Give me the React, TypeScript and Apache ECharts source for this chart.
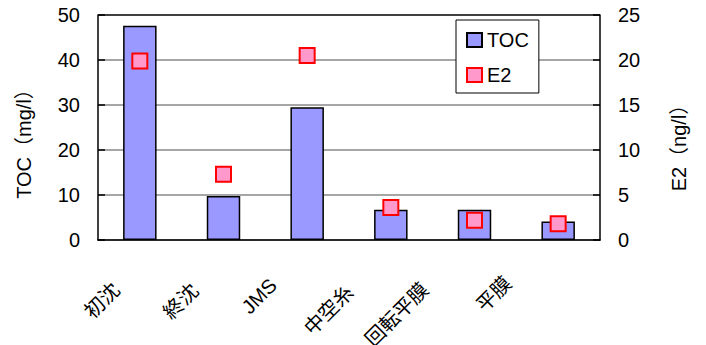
import React, { useEffect, useRef } from "react";
import * as echarts from "echarts";

const categories = ["初沈", "終沈", "JMS", "中空糸", "回転平膜", "平膜"];
const tocValues = [47.6, 9.8, 29.5, 6.7, 6.7, 4.1];
const e2Values = [19.9, 7.3, 20.5, 3.6, 2.2, 1.8];
const leftTicks = { min: 0, max: 50, interval: 10 };
const rightTicks = { min: 0, max: 25, interval: 5 };
const leftAxisName = "TOC（mg/l）";
const rightAxisName = "E2（ng/l）";

// per-label text styles that mimic the source's label placement
const labelStyles = [
  { padding: [0, 44, 0, 0], verticalAlign: "top", lineHeight: 21 },
  { padding: [0, 48, 0, 0], verticalAlign: "top", lineHeight: 15 },
  { padding: [0, 48, 0, 0], verticalAlign: "middle" },
  { padding: [0, 58, 0, 0], verticalAlign: "middle" },
  { padding: [0, 62, 0, 0], verticalAlign: "bottom", lineHeight: 16 },
  { padding: [0, 58, 0, 0], verticalAlign: "bottom", lineHeight: 26 },
];

const FONT = "'Liberation Sans', Arial, 'Noto Sans CJK JP', sans-serif";

export default function App() {
  const ref = useRef<HTMLDivElement>(null);
  useEffect(() => {
    if (!ref.current) return;
    const chart = echarts.init(ref.current, undefined, { renderer: "svg" });
    chart.setOption({
      animation: false,
      backgroundColor: "#fff",
      textStyle: { fontFamily: FONT },
      grid: {
        left: 98,
        right: 106,
        top: 15,
        bottom: 105,
        containLabel: false,
        outerBoundsMode: "none",
      },
      graphic: [
        {
          type: "text",
          x: 24,
          y: 139,
          rotation: Math.PI / 2,
          style: {
            text: leftAxisName,
            fontSize: 20,
            fontFamily: FONT,
            fill: "#000",
            align: "center",
            verticalAlign: "middle",
          },
        },
        {
          type: "text",
          x: 679,
          y: 143,
          rotation: Math.PI / 2,
          style: {
            text: rightAxisName,
            fontSize: 20,
            fontFamily: FONT,
            fill: "#000",
            align: "center",
            verticalAlign: "middle",
          },
        },
      ],
      legend: {
        orient: "vertical",
        left: 456,
        top: 20,
        padding: [10, 10, 8, 10],
        itemGap: 15,
        itemWidth: 15,
        itemHeight: 14,
        borderColor: "#000",
        borderWidth: 1,
        backgroundColor: "#fff",
        textStyle: { fontSize: 20, color: "#000", fontFamily: FONT },
        data: [
          { name: "TOC", icon: "rect" },
          { name: "E2", icon: "rect" },
        ],
      },
      xAxis: {
        type: "category",
        data: categories.map((c, i) => ({
          value: c,
          textStyle: labelStyles[i],
        })),
        axisLine: { lineStyle: { color: "#000", width: 1.5 } },
        axisTick: { inside: true, length: 8, lineStyle: { color: "#000", width: 1.5 } },
        axisLabel: {
          interval: 0,
          rotate: 45,
          margin: 8,
          fontSize: 20,
          color: "#000",
          fontFamily: FONT,
          hideOverlap: false,
        },
      },
      yAxis: [
        {
          type: "value",
          ...leftTicks,
          axisLine: { show: true, lineStyle: { color: "#000", width: 1.5 } },
          axisTick: { show: true, inside: true, length: 7, lineStyle: { color: "#000", width: 1.5 } },
          axisLabel: { fontSize: 20, color: "#000", margin: 18, fontFamily: FONT },
          splitLine: {
            show: true,
            lineStyle: {
              color: ["#888", "#888", "#888", "#888", "#888", "#000"],
              width: 1.5,
            },
          },
        },
        {
          type: "value",
          ...rightTicks,
          axisLine: { show: true, lineStyle: { color: "#000", width: 1.5 } },
          axisTick: { show: true, inside: true, length: 7, lineStyle: { color: "#000", width: 1.5 } },
          axisLabel: { fontSize: 20, color: "#000", margin: 18, fontFamily: FONT },
          splitLine: { show: false },
        },
      ],
      series: [
        {
          name: "TOC",
          type: "bar",
          yAxisIndex: 0,
          data: tocValues,
          barWidth: "40%",
          itemStyle: { color: "#9999FF", borderColor: "#000", borderWidth: 1.5 },
        },
        {
          name: "E2",
          type: "scatter",
          yAxisIndex: 1,
          data: e2Values,
          symbol: "rect",
          symbolSize: 15,
          itemStyle: { color: "#FF99CC", borderColor: "#FF0000", borderWidth: 2, opacity: 1 },
          z: 5,
        },
      ],
    });
    return () => chart.dispose();
  }, []);
  return (
    <div
      ref={ref}
      style={{ position: "fixed", left: 0, top: 0, width: 706, height: 345 }}
    />
  );
}
